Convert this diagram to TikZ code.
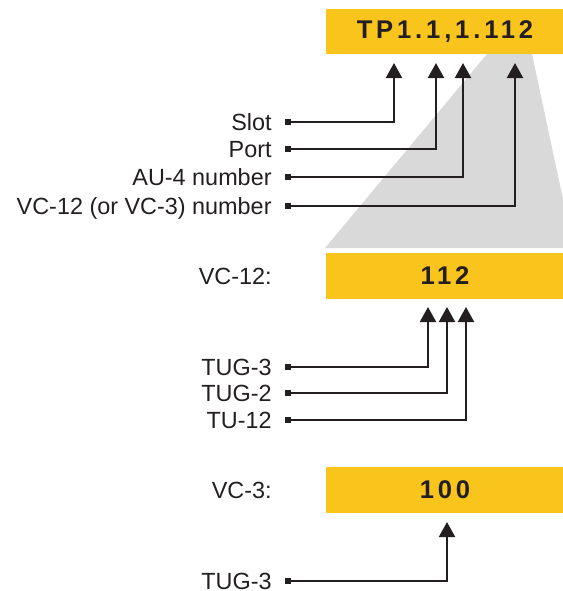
\documentclass[tikz,border=0pt]{standalone}
\usepackage{fontspec}
\setmainfont{Liberation Sans}
\newfontfamily\codefont[LetterSpace=15]{Liberation Sans}
\usetikzlibrary{arrows.meta}
\definecolor{tyellow}{HTML}{F9C41B}
\definecolor{tgray}{HTML}{D9D9D9}
\definecolor{tblack}{HTML}{231F20}
\tikzset{
  codebox/.style={fill=tyellow, minimum width=119pt, minimum height=23pt, inner sep=0pt,
    font=\fontsize{12.8}{14}\selectfont\codefont\bfseries, text=tblack},
  lbl/.style={anchor=base east, inner sep=0pt, font=\fontsize{11.7}{14}\selectfont, text=tblack},
  mk/.style={fill=tblack, minimum size=2.6pt, inner sep=0pt},
  conn/.style={draw=tblack, line width=1.1pt, -{Triangle[width=8pt,length=7.5pt]}},
}
\begin{document}
\begin{tikzpicture}[x=0.5pt, y=-0.5pt]
\useasboundingbox (0,0) rectangle (563,591);
\fill[tgray] (487,54) -- (532,54) -- (563,199) -- (563,248) -- (325,248) -- cycle;
\node[codebox, minimum height=22.5pt] (tp) at (445,31.5) {TP1.1,1.112};
\node[codebox] (vctw) at (445,276) {112};
\node[codebox] (vcth) at (445,490) {100};
\node[lbl] (vctwlbl) at (272,284) {VC-12:};
\node[lbl] (vcthlbl) at (272,498) {VC-3:};
\node[lbl] (slot) at (272,130) {Slot};
\node[mk] (slotmk) at (288,122) {};
\coordinate (slottip) at (394,63);
\draw[conn] (slotmk.center) -| (slottip);
\node[lbl] (port) at (272,157) {Port};
\node[mk] (portmk) at (288,149) {};
\coordinate (porttip) at (436,63);
\draw[conn] (portmk.center) -| (porttip);
\node[lbl] (au) at (272,185) {AU-4 number};
\node[mk] (aumk) at (288,177) {};
\coordinate (autip) at (463,63);
\draw[conn] (aumk.center) -| (autip);
\node[lbl] (vc) at (272,214) {VC-12 (or VC-3) number};
\node[mk] (vcmk) at (288,206) {};
\coordinate (vctip) at (515,63);
\draw[conn] (vcmk.center) -| (vctip);
\node[lbl] (tugth) at (272,375) {TUG-3};
\node[mk] (tugthmk) at (288,367) {};
\coordinate (tugthtip) at (428,307);
\draw[conn] (tugthmk.center) -| (tugthtip);
\node[lbl] (tugtw) at (272,401) {TUG-2};
\node[mk] (tugtwmk) at (288,393) {};
\coordinate (tugtwtip) at (447,307);
\draw[conn] (tugtwmk.center) -| (tugtwtip);
\node[lbl] (tu) at (272,428) {TU-12};
\node[mk] (tumk) at (288,420) {};
\coordinate (tutip) at (466,307);
\draw[conn] (tumk.center) -| (tutip);
\node[lbl] (tugbt) at (272,589) {TUG-3};
\node[mk] (tugbtmk) at (288,581) {};
\coordinate (tugbttip) at (447,522);
\draw[conn] (tugbtmk.center) -| (tugbttip);
\end{tikzpicture}
\end{document}
